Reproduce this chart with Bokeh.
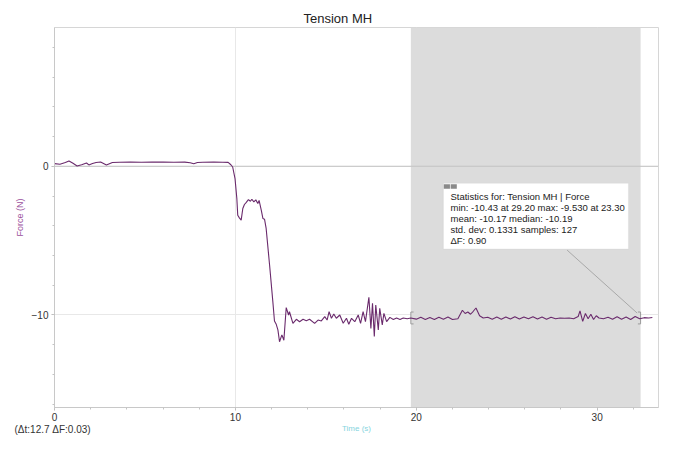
from bokeh.plotting import figure
from bokeh.models import BoxAnnotation, Span, Label, SingleIntervalTicker, Range1d, Title
from bokeh.embed import file_html
from bokeh.resources import INLINE

# ---------------- data ----------------
title_text = "Tension MH"
x_label = "Time (s)"
y_label = "Force (N)"
delta_text = "(\u0394t:12.7 \u0394F:0.03)"

time_a = [0.0, 0.3, 0.6, 0.8, 1.0, 1.25, 1.5, 1.77, 1.9, 2.1, 2.3, 2.55, 2.87, 3.2, 3.6, 4.2,
          4.8, 5.4, 6.0, 6.6, 7.2, 7.5, 7.7, 7.9, 8.2, 8.8, 9.3, 9.6]
force_a = [0.18, 0.13, 0.25, 0.36, 0.22, 0.02, 0.1, 0.22, 0.09, 0.18, 0.25, 0.29, 0.09, 0.25, 0.27, 0.28,
           0.27, 0.28, 0.28, 0.27, 0.28, 0.24, 0.17, 0.25, 0.27, 0.28, 0.27, 0.26]

time_b = [9.75, 9.85, 9.98, 10.08, 10.13, 10.22, 10.32, 10.41, 10.5, 10.59, 10.72, 10.83, 10.91, 11.02,
          11.13, 11.24, 11.31, 11.43, 11.52, 11.61, 11.7, 11.89, 12.07, 12.16, 12.25, 12.35, 12.44,
          12.57, 12.68, 12.81, 12.94, 12.99]
force_b = [0.1, -0.05, -0.83, -2.17, -3.29, -3.47, -3.62, -2.84, -2.57, -2.44, -2.24, -2.35, -2.22, -2.39,
           -2.26, -2.51, -2.3, -2.95, -3.51, -3.56, -4.18, -6.64, -9.1, -10.4, -10.6, -11.0, -11.8,
           -11.34, -11.7, -9.5, -10.0, -9.78]

time_c = [13.18, 13.37, 13.55, 13.74, 13.92, 14.1, 14.38, 14.57, 14.75, 14.94, 15.07, 15.18, 15.31, 15.44,
          15.58, 15.77, 15.96, 16.14, 16.27, 16.42, 16.6, 16.79, 16.92, 17.06, 17.19, 17.38, 17.49, 17.58,
          17.68, 17.76, 17.9, 17.98, 18.12, 18.21, 18.36, 18.54, 18.73, 18.91, 19.1, 19.28, 19.5]
force_c = [-10.56, -10.29, -10.45, -10.29, -10.38, -10.29, -10.56, -10.34, -10.4, -10.11, -10.34, -9.78,
           -10.22, -9.93, -10.22, -10.0, -10.56, -10.22, -10.62, -10.22, -10.45, -10.0, -10.56, -9.78,
           -10.45, -8.81, -10.9, -9.22, -11.45, -9.33, -11.0, -9.55, -10.67, -9.89, -10.45, -10.16,
           -10.3, -10.2, -10.3, -10.2, -10.25]

time_d = [19.7, 20.0, 20.25, 20.5, 20.75, 21.0, 21.25, 21.5, 21.75, 22.0, 22.3, 22.55, 22.7, 22.85, 23.0,
          23.15, 23.3, 23.5, 23.7, 23.95, 24.2, 24.45, 24.7, 24.95, 25.2, 25.45, 25.7, 25.95, 26.2, 26.45,
          26.7, 26.95, 27.2, 27.45, 27.7, 27.95, 28.2, 28.45, 28.7, 28.95, 29.05, 29.2, 29.35, 29.5, 29.65,
          29.8, 29.95, 30.1, 30.35, 30.6, 30.85, 31.1, 31.35, 31.6, 31.85, 32.1, 32.35, 32.6, 32.85, 33.05]
force_d = [-10.2, -10.28, -10.15, -10.3, -10.17, -10.3, -10.15, -10.28, -10.14, -10.3, -10.25, -9.68, -9.9,
           -9.8, -9.95, -9.75, -9.53, -10.05, -10.2, -10.15, -10.28, -10.14, -10.28, -10.13, -10.27, -10.12,
           -10.27, -10.13, -10.26, -10.12, -10.27, -10.14, -10.28, -10.15, -10.25, -10.2, -10.22, -10.2,
           -10.25, -10.1, -9.72, -10.43, -9.9, -10.25, -9.95, -10.3, -10.05, -10.2, -10.25, -10.15, -10.28,
           -10.12, -10.28, -10.14, -10.3, -10.1, -10.25, -10.18, -10.2, -10.17]

time_s = time_a + time_b + time_c + time_d
force_n = force_a + force_b + force_c + force_d

sel_start, sel_end = 19.7, 32.4
sel_level = -10.2

stats_lines = [
    "Statistics for: Tension MH | Force",
    "min: -10.43 at 29.20 max: -9.530 at 23.30",
    "mean: -10.17 median: -10.19",
    "std. dev: 0.1331 samples: 127",
    "\u0394F: 0.90",
]

# stats box placement (data units)
box_left, box_right, box_top, box_bottom = 21.5, 31.73, -1.14, -5.57
text_x = 21.89
text_y = [-2.05, -2.79, -3.52, -4.26, -5.0]
leader = (28.34, -5.64, 32.21, -9.87)

FONT = "Liberation Sans"

p = figure(width=660, height=435, output_backend="svg", toolbar_location=None,
           x_range=Range1d(0, 33.39), y_range=Range1d(-16.22, 9.33),
           min_border_left=54, min_border_right=2, min_border_top=27, min_border_bottom=0,
           title=title_text)
p.background_fill_color = "white"
p.border_fill_color = "white"
p.outline_line_color = "#d6d6d6"

p.title.align = "left"
p.title.offset = 249
p.title.text_font = FONT
p.title.text_font_size = "13px"
p.title.text_font_style = "normal"
p.title.text_color = "#222222"
p.title.standoff = 4

for ax in (p.xaxis[0], p.yaxis[0]):
    ax.ticker = SingleIntervalTicker(interval=10, num_minor_ticks=5)
    ax.axis_line_color = "#c8c8c8"
    ax.major_tick_line_color = "#b8b8b8"
    ax.minor_tick_line_color = "#c4c4c4"
    ax.major_tick_out = 3
    ax.major_tick_in = 0
    ax.minor_tick_out = 2
    ax.minor_tick_in = 0
    ax.major_label_text_font = FONT
    ax.major_label_text_font_size = "10px"
    ax.major_label_text_color = "#333333"
    ax.axis_label_text_font = FONT
    ax.axis_label_text_font_style = "normal"

p.xaxis.major_label_standoff = 2
p.xaxis.axis_label = x_label
p.xaxis.axis_label_text_color = "#86d4de"
p.xaxis.axis_label_text_font_size = "8px"
p.xaxis.axis_label_standoff = 0

p.yaxis.major_label_standoff = 3
p.yaxis.axis_label = y_label
p.yaxis.axis_label_text_color = "#9a4f9c"
p.yaxis.axis_label_text_font_size = "9px"
p.yaxis.axis_label_standoff = 4

p.xgrid.grid_line_color = "#e8e8e8"
p.ygrid.grid_line_color = "#e8e8e8"

sel = BoxAnnotation(left=sel_start, right=sel_end, fill_color="#dcdcdc", fill_alpha=1,
                    line_color=None, level="underlay")
p.add_layout(sel)
p.add_layout(Span(location=0, dimension="width", line_color="#c2c2c2", line_width=1, level="underlay"))

# selection brackets on the trace
bw, bh = 0.15, 0.4
p.multi_line(xs=[[sel_start + bw, sel_start, sel_start, sel_start + bw],
                 [sel_end - bw, sel_end, sel_end, sel_end - bw]],
             ys=[[sel_level + bh, sel_level + bh, sel_level - bh, sel_level - bh]] * 2,
             line_color="#9a9a9a", line_width=1)

p.line(time_s, force_n, line_color="#6a2a6c", line_width=1.1)

# statistics callout
p.segment(x0=[leader[0]], y0=[leader[1]], x1=[leader[2]], y1=[leader[3]],
          line_color="#a8a8a8", line_width=1)
p.add_layout(BoxAnnotation(left=box_left, right=box_right, top=box_top, bottom=box_bottom,
                           fill_color="white", fill_alpha=1, line_color="#cfcfcf", line_width=1))
p.add_layout(BoxAnnotation(left=box_left + 0.02, right=box_left + 0.36, top=box_top - 0.07,
                           bottom=box_top - 0.37, fill_color="#8a8a8a", fill_alpha=1, line_color=None))
p.add_layout(BoxAnnotation(left=box_left + 0.40, right=box_left + 0.74, top=box_top - 0.07,
                           bottom=box_top - 0.37, fill_color="#8a8a8a", fill_alpha=1, line_color=None))
for line_text, yy in zip(stats_lines, text_y):
    p.add_layout(Label(x=text_x, y=yy, text=line_text, text_font=FONT, text_font_size="9.5px",
                       text_color="#222222", text_baseline="middle"))

# readout under the chart, bottom-left (pulled up onto the axis-label row)
delta_title = Title(text=delta_text, align="left", offset=-40, standoff=-24, vertical_align="top",
                    text_font=FONT, text_font_size="10px", text_font_style="normal",
                    text_color="#333333")
p.add_layout(delta_title, "below")

open("out.html", "w").write(file_html(p, INLINE))
